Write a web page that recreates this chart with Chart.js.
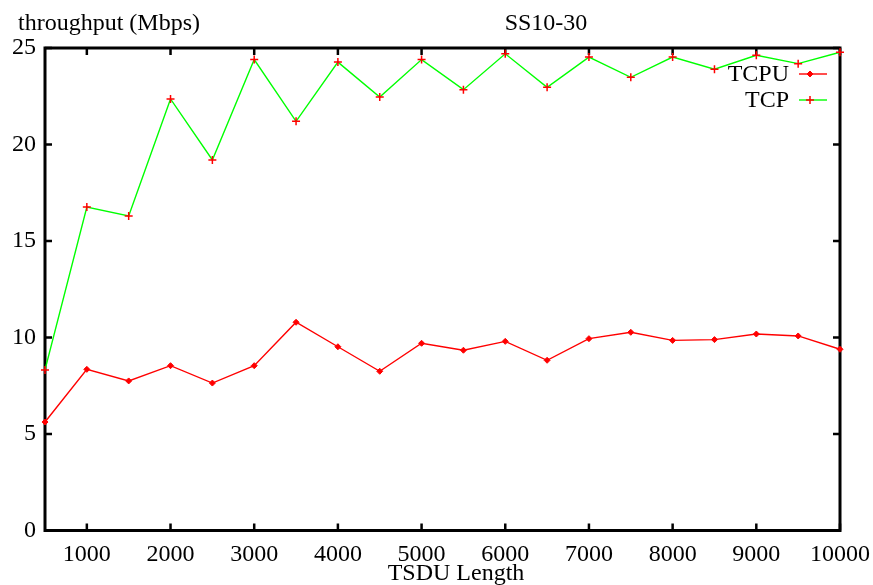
<!DOCTYPE html>
<html>
<head>
<meta charset="utf-8">
<script src="https://cdn.jsdelivr.net/npm/chart.js"></script>
<style>
  html, body { margin: 0; padding: 0; background: #fff; }
  #wrap { width: 873px; height: 585px; }
</style>
</head>
<body>
<div id="wrap"><canvas id="c" width="873" height="585"></canvas></div>
<script>
// ---- data ----
const tsduLengths = [500,1000,1500,2000,2500,3000,3500,4000,4500,5000,5500,6000,6500,7000,7500,8000,8500,9000,9500,10000];
const tcpuThroughput = [5.62,8.35,7.75,8.54,7.64,8.54,10.79,9.52,8.25,9.7,9.34,9.8,8.82,9.94,10.27,9.85,9.89,10.18,10.08,9.39];
const tcpThroughput  = [8.32,16.76,16.3,22.36,19.2,24.4,21.2,24.27,22.46,24.4,22.84,24.7,22.96,24.53,23.48,24.53,23.9,24.62,24.19,24.78];
const xTickValues = [1000,2000,3000,4000,5000,6000,7000,8000,9000,10000];
const yTickValues = [0,5,10,15,20,25];
const seriesNames = ['TCPU','TCP'];
const chartTitle = 'SS10-30';
const yAxisTitle = 'throughput (Mbps)';
const xAxisTitle = 'TSDU Length';

const FONT = '"Liberation Serif", "Times New Roman", serif';
Chart.defaults.font.family = FONT;
Chart.defaults.font.size = 24;
Chart.defaults.color = '#000';

const RED = '#ff0000';
const GREEN = '#00ff00';

const toPoints = (vals) => tsduLengths.map((x, i) => ({ x: x, y: vals[i] }));

const framePlugin = {
  id: 'gnuplotFrame',
  beforeDatasetsDraw(chart) {
    const { ctx, chartArea: a, scales } = chart;
    const xs = scales.x, ys = scales.y;
    const tl = 7;
    ctx.save();
    ctx.strokeStyle = '#000';
    ctx.lineWidth = 2.5;
    ctx.beginPath();
    xTickValues.forEach(v => {
      const px = xs.getPixelForValue(v);
      ctx.moveTo(px, a.bottom); ctx.lineTo(px, a.bottom - tl);
      ctx.moveTo(px, a.top); ctx.lineTo(px, a.top + tl);
    });
    yTickValues.forEach(v => {
      const py = ys.getPixelForValue(v);
      ctx.moveTo(a.left, py); ctx.lineTo(a.left + tl, py);
      ctx.moveTo(a.right, py); ctx.lineTo(a.right - tl, py);
    });
    ctx.stroke();
    ctx.lineWidth = 3;
    ctx.strokeRect(a.left, a.top, a.right - a.left, a.bottom - a.top);
    ctx.restore();
  },
  afterDraw(chart) {
    const { ctx } = chart;
    ctx.save();
    ctx.fillStyle = '#000';
    ctx.font = '24px ' + FONT;
    ctx.textBaseline = 'alphabetic';
    ctx.textAlign = 'left';
    ctx.fillText(yAxisTitle, 18, 30);
    ctx.textAlign = 'center';
    ctx.fillText(chartTitle, 546, 30);
    ctx.fillText(xAxisTitle, 456, 580);
    // legend
    const rows = [74, 100];
    chart.data.datasets.forEach((ds, i) => {
      const y = rows[i];
      ctx.textAlign = 'right';
      ctx.textBaseline = 'middle';
      ctx.fillStyle = '#000';
      ctx.fillText(ds.label, 789, y + 1);
      ctx.strokeStyle = ds.borderColor;
      ctx.lineWidth = ds.borderWidth;
      ctx.beginPath();
      ctx.moveTo(799, y); ctx.lineTo(827, y);
      ctx.stroke();
      ctx.save();
      ctx.fillStyle = ds.pointBackgroundColor;
      ctx.strokeStyle = ds.pointBorderColor;
      ctx.lineWidth = ds.pointBorderWidth;
      Chart.helpers.drawPoint(ctx, {
        pointStyle: ds.pointStyle,
        radius: ds.pointRadius,
        borderWidth: ds.pointBorderWidth,
        rotation: 0
      }, 810, y);
      ctx.restore();
    });
    ctx.restore();
  }
};

new Chart(document.getElementById('c'), {
  type: 'line',
  data: {
    datasets: [
      {
        label: seriesNames[0],
        data: toPoints(tcpuThroughput),
        borderColor: RED,
        borderWidth: 1.4,
        pointStyle: 'rectRot',
        pointRadius: 3,
        pointBorderWidth: 1,
        pointBackgroundColor: RED,
        pointBorderColor: RED,
        tension: 0,
        clip: false
      },
      {
        label: seriesNames[1],
        data: toPoints(tcpThroughput),
        borderColor: GREEN,
        borderWidth: 1.4,
        pointStyle: 'cross',
        pointRadius: 4,
        pointBorderWidth: 1.5,
        pointBackgroundColor: RED,
        pointBorderColor: RED,
        tension: 0,
        clip: false
      }
    ]
  },
  options: {
    responsive: false,
    animation: false,
    devicePixelRatio: 1,
    layout: { padding: { left: 0, right: 33, top: 48, bottom: 0 } },
    plugins: { legend: { display: false }, tooltip: { enabled: false }, title: { display: false } },
    scales: {
      x: {
        type: 'linear',
        min: 500, max: 10000,
        grid: { display: false, drawTicks: false },
        border: { display: false },
        afterBuildTicks: (s) => { s.ticks = xTickValues.map(v => ({ value: v })); },
        ticks: { padding: 10, maxRotation: 0, autoSkip: false, callback: (v) => String(v) },
        afterFit: (s) => { s.height = 54.5; s.paddingLeft = 0; s.paddingRight = 0; }
      },
      y: {
        min: 0, max: 25,
        grid: { display: false, drawTicks: false },
        border: { display: false },
        afterBuildTicks: (s) => { s.ticks = yTickValues.map(v => ({ value: v })); },
        ticks: { padding: 9, callback: (v) => String(v) },
        afterFit: (s) => { s.width = 45; s.paddingTop = 0; s.paddingBottom = 0; }
      }
    }
  },
  plugins: [framePlugin]
});
</script>
</body>
</html>
